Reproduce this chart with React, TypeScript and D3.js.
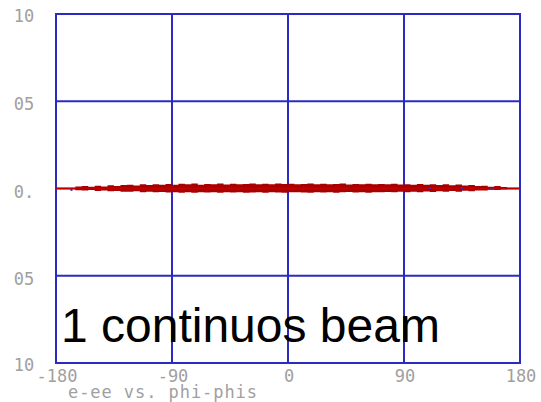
import React, { useEffect, useRef } from "react";
import * as d3 from "d3";

// phi-phis bin starts (deg), 5 deg wide
const phiBins = d3.range(-180, 180, 5);
// upper / lower edge of the e-ee band in each bin (x 0.001)
const bandUpper = [
  3, 3, 3, 12, 14, 10, 16, 12, 18, 15, 20, 22, 17, 24, 20, 25, 21, 26, 22, 27,
  24, 28, 22, 26, 25, 28, 23, 27, 25, 26, 28, 24, 27, 25, 28, 26, 27, 24, 26, 28,
  25, 27, 24, 26, 28, 23, 26, 25, 27, 24, 26, 25, 27, 23, 25, 22, 26, 21, 25, 20,
  24, 19, 23, 17, 20, 15, 16, 10, 14, 8, 3, 3,
];
const bandLower = [
  -3, -3, -3, -10, -12, -9, -14, -11, -16, -14, -18, -19, -16, -21, -19, -22, -20, -23, -21, -24,
  -22, -24, -21, -23, -22, -24, -21, -23, -22, -24, -23, -21, -24, -22, -23, -24, -22, -21, -23, -24,
  -22, -23, -21, -24, -22, -20, -23, -22, -24, -21, -22, -20, -22, -19, -21, -18, -21, -17, -20, -16,
  -19, -15, -18, -13, -16, -11, -12, -7, -9, -5, -3, -3,
];
// a few blue entries inside the band
const bluePhi = [-168, 110, 135, 158];
const blueVal = [-8, 2, 3, -3];

const xTicks = [-180, -90, 0, 90, 180];
const xTickLabels = ["-180", "-90", "0", "90", "180"];
const yTicks = [1, 0.5, 0, -0.5, -1];
const yTickLabels = ["10", "05", "0.", "05", "10"];

const W = 541;
const H = 402;

export default function App() {
  const el = useRef<SVGSVGElement>(null);

  useEffect(() => {
    const svg = d3.select(el.current);
    svg.selectAll("*").remove();

    const x = d3.scaleLinear().domain([-180, 180]).range([56, 520]);
    const y = d3.scaleLinear().domain([-1, 1]).range([363, 14]);
    const grid = "#2b2bc2";
    const labelFont = "'DejaVu Sans Mono', monospace";

    // grid / frame
    svg.append("g")
      .selectAll("line")
      .data(xTicks)
      .join("line")
      .attr("x1", (d) => x(d)).attr("x2", (d) => x(d))
      .attr("y1", y(1)).attr("y2", y(-1))
      .attr("stroke", grid).attr("stroke-width", 2);
    svg.append("g")
      .selectAll("line")
      .data(yTicks)
      .join("line")
      .attr("x1", x(-180) - 1).attr("x2", x(180) + 1)
      .attr("y1", (d) => y(d)).attr("y2", (d) => y(d))
      .attr("stroke", grid).attr("stroke-width", 2);

    // band
    const pts = phiBins.map((p, i) => ({ p, hi: bandUpper[i] / 1000, lo: bandLower[i] / 1000 }));
    pts.push({ p: 180, hi: pts[pts.length - 1].hi, lo: pts[pts.length - 1].lo });
    const area = d3.area<{ p: number; hi: number; lo: number }>()
      .x((d) => x(d.p))
      .y0((d) => y(d.lo))
      .y1((d) => y(d.hi))
      .curve(d3.curveStepAfter);
    svg.append("path").attr("d", area(pts)).attr("fill", "#a80000");
    svg.append("line")
      .attr("x1", x(-180)).attr("x2", x(180))
      .attr("y1", y(0)).attr("y2", y(0))
      .attr("stroke", "#c00000").attr("stroke-width", 1.5);
    svg.append("g")
      .selectAll("rect")
      .data(bluePhi)
      .join("rect")
      .attr("x", (d) => x(d) - 1)
      .attr("y", (d, i) => y(blueVal[i] / 1000) - 1)
      .attr("width", 2).attr("height", 2)
      .attr("fill", "#3030c0");

    // tick labels
    svg.append("g")
      .selectAll("text")
      .data(yTicks)
      .join("text")
      .attr("x", 24)
      .attr("y", (d) => y(d) + (d === -1 ? 8 : d === 1 ? 8 : 9))
      .attr("text-anchor", "middle")
      .attr("font-family", labelFont).attr("font-size", 17)
      .attr("fill", "#a0a0a0")
      .text((d, i) => yTickLabels[i]);
    svg.append("g")
      .selectAll("text")
      .data(xTicks)
      .join("text")
      .attr("x", (d) => x(d) + 1)
      .attr("y", 382)
      .attr("text-anchor", "middle")
      .attr("font-family", labelFont).attr("font-size", 17)
      .attr("fill", "#a0a0a0")
      .text((d, i) => xTickLabels[i]);
    svg.append("text")
      .attr("x", 68).attr("y", 398)
      .attr("font-family", labelFont).attr("font-size", 17)
      .attr("textLength", 189)
      .attr("fill", "#a0a0a0")
      .text("e-ee vs. phi-phis");

    svg.append("text")
      .attr("x", 61).attr("y", 342)
      .attr("font-family", "'Liberation Sans', Arial, sans-serif")
      .attr("font-size", 48)
      .attr("fill", "#000")
      .text("1 continuos beam");
  }, []);

  return (
    <svg
      ref={el}
      width={W}
      height={H}
      style={{ position: "absolute", left: 0, top: 0, background: "#fff" }}
    />
  );
}
